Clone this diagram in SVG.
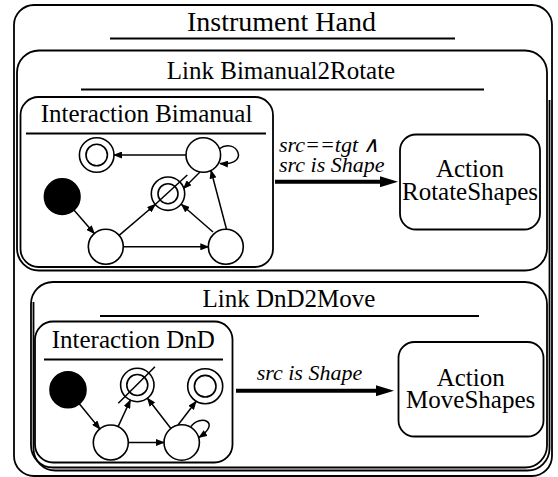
<svg xmlns="http://www.w3.org/2000/svg" width="558" height="477" viewBox="0 0 558 477">
<defs>
  <marker id="ah" markerUnits="userSpaceOnUse" markerWidth="9" markerHeight="7" refX="8" refY="3.5" orient="auto">
    <path d="M0,0 L9,3.5 L0,7 z" fill="#000"/>
  </marker>
  <marker id="bh" markerUnits="userSpaceOnUse" markerWidth="18" markerHeight="11" refX="0" refY="5.5" orient="auto">
    <path d="M0,0 L18,5.5 L0,11 z" fill="#000"/>
  </marker>
</defs>
<rect width="558" height="477" fill="#fff"/>

<g id="boxes" fill="none" stroke="#000" stroke-width="1.8">
  <rect id="instrument-hand-box" x="14" y="5" width="538" height="471" rx="20"/>
  <path d="M549.5,100 L549.5,448.5 A22,22 0 0 1 527.5,470.5 L55.5,470.5 A22,22 0 0 1 33.5,448.5 L33.5,302"/>
  <rect id="link-bimanual2rotate-box" x="17" y="50.5" width="530" height="220" rx="22"/>
  <rect id="interaction-bimanual-box" x="20.5" y="97" width="252.5" height="170" rx="18"/>
  <rect id="action-rotateshapes-box" x="400" y="134.5" width="140" height="95" rx="16"/>
  <rect id="link-dnd2move-box" x="31" y="282" width="516" height="185.5" rx="22"/>
  <rect id="interaction-dnd-box" x="35" y="321.5" width="197.5" height="141" rx="18"/>
  <rect id="action-moveshapes-box" x="398.5" y="342" width="145" height="94.5" rx="16"/>
</g>

<g id="underlines" stroke="#000" stroke-width="2">
  <line x1="110" y1="38.5" x2="455" y2="38.5"/>
  <line x1="81" y1="89.5" x2="484" y2="89.5"/>
  <line x1="26" y1="133.5" x2="266" y2="133.5"/>
  <line x1="100" y1="316" x2="479" y2="316"/>
  <line x1="44" y1="359.5" x2="223" y2="359.5"/>
</g>

<g id="titles" font-family="Liberation Serif" font-size="25" fill="#000" text-anchor="middle">
  <text x="281.5" y="30.5" font-size="28">Instrument Hand</text>
  <text x="281" y="79">Link Bimanual2Rotate</text>
  <text x="146.5" y="121.5">Interaction Bimanual</text>
  <text x="470" y="176.7">Action</text>
  <text x="470" y="200">RotateShapes</text>
  <text x="289" y="306.7">Link DnD2Move</text>
  <text x="133.3" y="348.3">Interaction DnD</text>
  <text x="470.7" y="386">Action</text>
  <text x="470.7" y="408.3">MoveShapes</text>
</g>

<g id="states" fill="#fff" stroke="#000" stroke-width="1.6">
  <g id="bimanual-states">
    <circle cx="96.7" cy="155" r="17.3"/>
    <circle cx="96.7" cy="155" r="10.7"/>
    <circle cx="203.3" cy="155" r="17.3"/>
    <circle cx="62.2" cy="196.7" r="17.8" fill="#000"/>
    <circle cx="168" cy="193.7" r="16.7"/>
    <circle cx="168" cy="193.7" r="10"/>
    <line x1="148.3" y1="210.7" x2="187.3" y2="175" stroke-width="1.5"/>
    <circle cx="105.8" cy="246.8" r="17.5"/>
    <circle cx="225.8" cy="246.8" r="17.5"/>
  </g>
  <g id="dnd-states">
    <circle cx="68" cy="389.7" r="18" fill="#000"/>
    <circle cx="137.3" cy="385" r="16.7"/>
    <circle cx="137.3" cy="385" r="10.5"/>
    <line x1="118.3" y1="403.3" x2="155" y2="366.7" stroke-width="1.5"/>
    <circle cx="205.2" cy="386.2" r="17.5"/>
    <circle cx="205.2" cy="386.2" r="10.8"/>
    <circle cx="110.8" cy="442.5" r="17.5"/>
    <circle cx="181.7" cy="442.5" r="17.7"/>
  </g>
</g>

<g id="connectors" fill="none" stroke="#000">
  <g id="bimanual-transitions" stroke-width="1.5" marker-end="url(#ah)">
    <line x1="186" y1="155" x2="114" y2="155"/>
    <line x1="73.9" y1="210.1" x2="94.3" y2="233.6"/>
    <line x1="119.1" y1="235.4" x2="155.3" y2="204.5"/>
    <line x1="123.3" y1="246.8" x2="208.3" y2="246.8"/>
    <line x1="213" y1="232" x2="181.5" y2="204.5"/>
    <line x1="226.5" y1="229.3" x2="211" y2="170.5"/>
    <line x1="200" y1="172" x2="183.5" y2="188.5"/>
    <path d="M219,149 C236,136 252,166 220,163.5"/>
  </g>
  <g id="dnd-transitions" stroke-width="1.5" marker-end="url(#ah)">
    <line x1="79.3" y1="403.7" x2="99.8" y2="428.9"/>
    <line x1="118.1" y1="426.6" x2="130.3" y2="400.2"/>
    <line x1="128.3" y1="442.5" x2="164" y2="442.5"/>
    <line x1="170.9" y1="428.5" x2="147.5" y2="398.2"/>
    <line x1="178" y1="425" x2="196" y2="401.5"/>
    <path d="M191,426.5 C200,414 222,422 199,437.5"/>
  </g>
  <g id="links" stroke-width="4" marker-end="url(#bh)">
    <line x1="275" y1="181.7" x2="380" y2="181.7"/>
    <line x1="236" y1="390.7" x2="376" y2="390.7"/>
  </g>
  <g id="link-labels" font-family="Liberation Serif" font-style="italic" font-size="22" fill="#000" stroke="none">
    <text x="279" y="151.5">src==tgt &#8743;</text>
    <text x="279" y="172">src is Shape</text>
    <text x="256.7" y="380">src is Shape</text>
  </g>
</g>
</svg>
